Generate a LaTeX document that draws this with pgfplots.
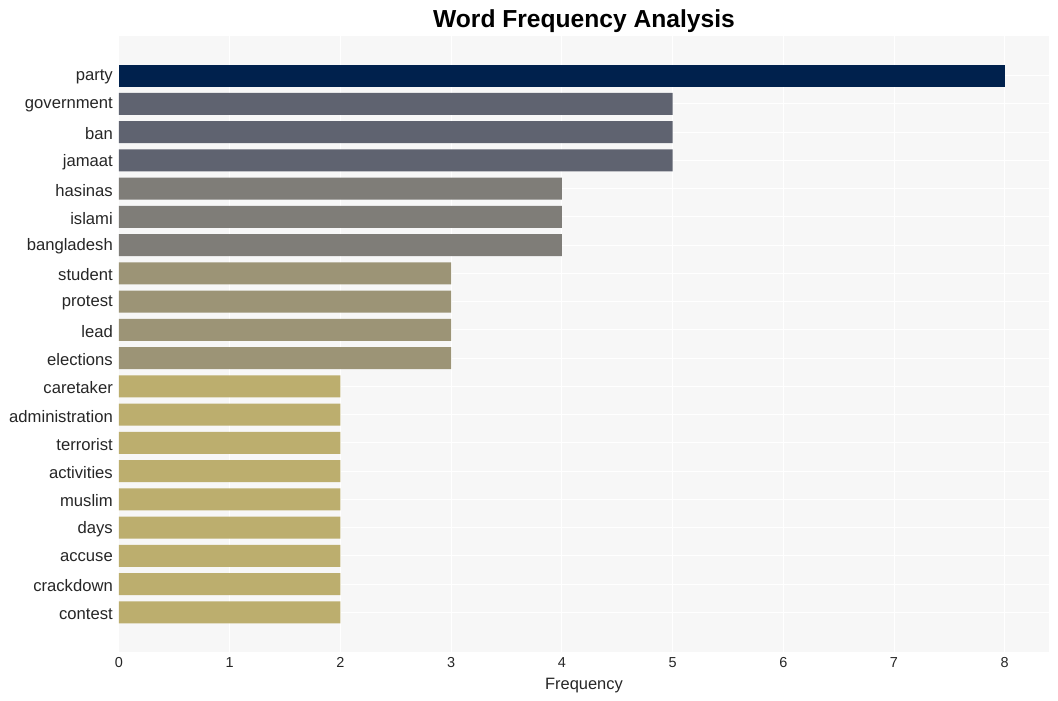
\documentclass[border=0pt]{standalone}
\usepackage{pgfplots}
\pgfplotsset{compat=1.18}
\usepackage{fontspec}
\setmainfont{Liberation Sans}
\definecolor{bgplot}{RGB}{247,247,247}
\definecolor{cnavy}{RGB}{0,33,77}
\definecolor{cfive}{RGB}{95,99,112}
\definecolor{cfour}{RGB}{127,125,120}
\definecolor{cthree}{RGB}{156,148,118}
\definecolor{ctwo}{RGB}{188,174,110}
\definecolor{txt}{RGB}{38,38,38}

\begin{document}
\begin{tikzpicture}
    \begin{axis}[
            name = ax,
            scale only axis,
            width = 930bp, height = 616bp,
            xmin = 0, xmax = 8.4,
            ymin = -1.4, ymax = 20.4,
            y dir = reverse,
            axis background/.style = {fill=bgplot},
            axis line style = {draw=none},
            major tick length = 0pt,
            grid = major,
            major grid style = {white, line width=1bp},
            xtick = {0,...,8},
            ytick = {0,...,19},
            yticklabels = {party,government,ban,jamaat,hasinas,islami,bangladesh,student,protest,lead,elections,caretaker,administration,terrorist,activities,muslim,days,accuse,crackdown,contest},
            /pgf/number format/assume math mode = true,
            ticklabel style = {text=txt},
            yticklabel style = {font=\fontsize{16.7}{18}\selectfont, inner sep=0pt, xshift=-6bp, yshift=-1.5bp},
            xticklabel style = {font=\fontsize{14.5}{16}\selectfont, inner sep=0pt, yshift=-5bp},
            xlabel = {Frequency},
            xlabel style = {font=\fontsize{16.5}{18}\selectfont, text=txt, anchor=base, at={(0.5,0)}, yshift=-37bp},
            title = {Word Frequency Analysis},
            title style = {font=\bfseries\fontsize{24.7}{28}\selectfont, anchor=base, at={(0.5,1)}, yshift=3bp},
            xbar, bar width = 0.78, bar shift = 0pt,
        ]
        % top word
        \addplot[draw=none, fill=cnavy, bar shift=0pt] coordinates {(8,0)};
        % frequency 5
        \addplot[draw=none, fill=cfive, bar shift=0pt] coordinates {(5,1) (5,2) (5,3)};
        % frequency 4
        \addplot[draw=none, fill=cfour, bar shift=0pt] coordinates {(4,4) (4,5) (4,6)};
        % frequency 3
        \addplot[draw=none, fill=cthree, bar shift=0pt] coordinates {(3,7) (3,8) (3,9) (3,10)};
        % frequency 2
        \addplot[draw=none, fill=ctwo, bar shift=0pt] coordinates {
                (2,11) (2,12) (2,13) (2,14) (2,15) (2,16) (2,17) (2,18) (2,19)
            };
    \end{axis}
    \path (ax.south west) ++(-119bp,-49bp) rectangle ++(1058bp,701bp);
\end{tikzpicture}
\end{document}
